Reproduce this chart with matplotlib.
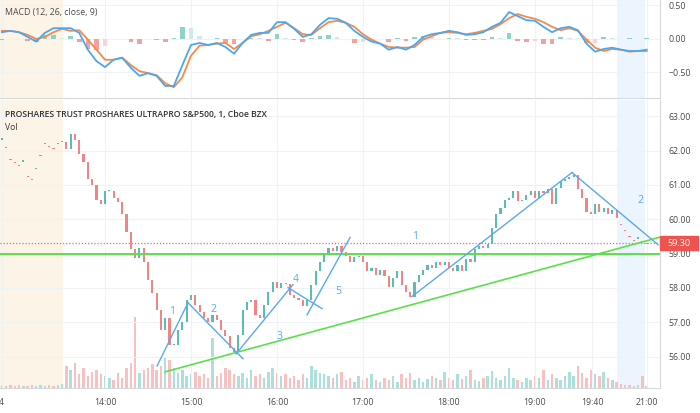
import numpy as np
import matplotlib.pyplot as plt
import matplotlib.transforms as mtransforms
from matplotlib.patches import Rectangle

plt.rcParams['font.family'] = ['Open Sans', 'DejaVu Sans']

# 3 minute bars, time in minutes after 14:00
t_start = -72
bar_step = 3
closes = [62.32, 62.09, 61.74, 61.68, 61.57, 61.68, 61.27, 61.16, 61.45, 61.83, 62.18, 62.12, 62.06, 62.18, 62.26,
          62.03, 62.47, 62.32, 61.89, 61.68, 61.16, 61.01, 60.57, 60.43,
          60.81, 60.81, 60.63, 60.49, 60.14, 59.64, 59.12, 58.88, 59.17, 58.77,
          58.24, 57.86, 57.37, 56.78, 57.13, 56.35, 56.35, 56.78, 57.02, 57.66, 57.80,
          57.51, 57.31, 57.13, 57.02, 57.22, 57.08, 56.78, 56.61, 56.26, 56.14, 56.64,
          57.37, 57.60, 57.66, 57.22, 57.13, 57.51, 57.89, 58.18, 58.01, 58.15, 58.13,
          57.80, 57.72, 57.66, 57.48, 57.66, 58.10, 58.48, 58.77, 58.97, 59.17, 59.09,
          59.23, 59.06, 58.94, 58.77, 58.91, 58.94, 58.77, 58.48, 58.59, 58.39, 58.53,
          58.36, 58.04, 58.30, 58.48, 58.10, 57.89, 57.75, 58.18, 58.39, 58.53, 58.68,
          58.59, 58.77, 58.68, 58.77, 58.59, 58.48, 58.68, 58.48, 58.83, 58.77, 59.12,
          59.23, 59.17, 59.29, 59.76, 60.14, 60.34, 60.57, 60.63, 60.81, 60.52, 60.57,
          60.72, 60.81, 60.63, 60.81, 60.75, 60.87, 60.43, 60.92, 61.10, 61.16, 61.22,
          61.30, 60.87, 60.63, 60.22, 60.14, 60.43, 60.22, 60.34, 60.14, 60.28, 60.05,
          59.85, 59.70, 59.52, 59.41, 59.44, 59.38, 59.32]
volumes = [3, 2, 3, 2, 3, 2, 2, 3, 2, 3, 2, 3, 2, 3, 4,
           22, 18, 25, 14, 20, 12, 16, 18, 14,
           12, 10, 8, 15, 10, 20, 25, 71, 15, 18,
           20, 24, 18, 22, 30, 28, 20, 15, 18, 12, 14,
           16, 12, 14, 10, 50, 12, 15, 20, 18, 14, 12,
           15, 10, 18, 12, 14, 10, 16, 20, 15, 12, 14,
           10, 12, 8, 14, 10, 22, 18, 15, 14, 12, 10,
           14, 16, 8, 10, 6, 12, 8, 10, 14, 8, 6,
           10, 8, 12, 6, 14, 10, 15, 8, 10, 6, 9,
           12, 10, 8, 16, 10, 8, 14, 9, 12, 18, 8,
           7, 10, 12, 17, 10, 8, 12, 20, 10, 8, 6,
           10, 8, 12, 10, 18, 8, 14, 10, 8, 12, 16,
           12, 22, 15, 10, 18, 14, 12, 16, 10, 8, 6,
           4, 3, 3, 2, 3, 12, 2]

# MACD (12, 26, close, 9) sampled every 6 minutes
macd_step = 6
macd_line = [0.10, 0.12, 0.10, 0.03, -0.04, 0.09, 0.16, 0.16, 0.16, 0.09,
             -0.16, -0.33, -0.42, -0.31, -0.28, -0.43, -0.55, -0.51, -0.55, -0.70,
             -0.70, -0.39, -0.09, -0.06, -0.09, -0.06, -0.12, -0.22, -0.06, 0.06,
             0.09, 0.09, 0.25, 0.25, 0.15, 0.03, 0.07, 0.21, 0.31, 0.30,
             0.24, 0.12, 0.03, -0.04, -0.07, -0.16, -0.12, -0.16, -0.09, 0.03,
             0.07, 0.09, 0.12, 0.10, 0.06, 0.07, 0.10, 0.18, 0.24, 0.40,
             0.34, 0.28, 0.27, 0.18, 0.10, 0.16, 0.18, 0.13, -0.07, -0.19,
             -0.15, -0.13, -0.16, -0.18, -0.18, -0.16]
signal_line = [0.12, 0.12, 0.10, 0.06, 0.00, 0.03, 0.10, 0.15, 0.12, 0.13,
               -0.01, -0.16, -0.31, -0.31, -0.28, -0.39, -0.48, -0.51, -0.54, -0.66,
               -0.72, -0.57, -0.25, -0.10, -0.09, -0.07, -0.06, -0.15, -0.06, 0.04,
               0.07, 0.12, 0.18, 0.24, 0.16, 0.07, 0.06, 0.16, 0.25, 0.27,
               0.24, 0.18, 0.07, -0.01, -0.07, -0.12, -0.13, -0.13, -0.12, -0.01,
               0.04, 0.09, 0.10, 0.09, 0.07, 0.09, 0.12, 0.15, 0.22, 0.31,
               0.37, 0.33, 0.30, 0.25, 0.18, 0.13, 0.16, 0.12, -0.01, -0.13,
               -0.18, -0.15, -0.16, -0.19, -0.18, -0.18]

# session limits (minutes after 14:00)
premarket_end = -29.3
postmarket = (357.3, 377)
last_price = 59.30
support_level = 58.98

# drawings: (t0, p0, t1, p1)
green_trend = (41.9, 55.56, 390.0, 59.51)
wave_lines = [(36.3, 55.73, 57.9, 57.57),
              (57.2, 57.60, 96.3, 55.94),
              (91.4, 56.08, 131.2, 58.10),
              (127.7, 58.01, 151.4, 57.40),
              (141.0, 57.22, 171.0, 59.47),
              (214.2, 57.75, 325.9, 61.36),
              (325.9, 61.36, 385.9, 59.26)]
wave_labels = [('1', 46.8, 57.31), ('2', 75.4, 57.37), ('3', 122.1, 56.58),
               ('4', 133.3, 58.24), ('5', 162.6, 57.89), ('1', 216.3, 59.50),
               ('2', 373.3, 60.55)]

xtick_pos = [-72, 0, 60, 120, 180, 240, 300, 340, 378]
xtick_lab = ['4', '14:00', '15:00', '16:00', '17:00', '18:00', '19:00', '19:40', '21:00']
price_ticks = [56, 57, 58, 59, 60, 61, 62, 63]
macd_ticks = [0.5, 0.0, -0.5]
macd_tick_lab = ['0.50', '0.00', '\u22120.50']

UP, DOWN = '#5bbcb2', '#f48383'
VUP, VDOWN = '#ace0da', '#f8c0c0'
BLUE, GREEN = '#5aa9ee', '#5be04b'
GRID = '#eff2f7'
TXT = '#4a4a4a'

c = np.array(closes)
t = t_start + bar_step * np.arange(len(c))
o = np.r_[c[0], c[:-1]]
up = c >= o
ext = (t < premarket_end) | (t > postmarket[0])
o_draw = np.where(ext, c, o)
h = c - o_draw
h = np.where(np.abs(h) < 0.03, np.where(up, 0.03, -0.03), h)

fig = plt.figure(figsize=(7, 4.13), dpi=100)
W, H = 700, 413
ax_m = fig.add_axes([0, 1 - 98 / H, 660 / W, 98 / H])
ax = fig.add_axes([0, 1 - 388 / H, 660 / W, 288 / H], sharex=ax_m)
ax_v = ax.twinx()
ax.set_zorder(ax_v.get_zorder() + 1)
ax.patch.set_visible(False)

xlim = (-73.3, 387.3)

# session shading
for a in (ax_m, ax_v):
    a.axvspan(xlim[0], premarket_end, color='#fdf4e8', lw=0, zorder=0)
    a.axvspan(postmarket[0], postmarket[1], color='#ecf5fd', lw=0, zorder=0)

# MACD panel
tm = t_start + macd_step * np.arange(len(macd_line))
m = np.array(macd_line)
s = np.array(signal_line)
hist = m - s
prev = np.r_[hist[0], hist[:-1]]
hcol = []
for hv, pv in zip(hist, prev):
    if hv >= 0:
        hcol.append('#8ed2ca' if hv >= pv else '#cdece8')
    else:
        hcol.append('#f5a0a0' if hv <= pv else '#fbd3d3')
ax_m.bar(tm, hist, width=3.2, color=hcol, lw=0, zorder=2)
ax_m.plot(tm, s, color='#f7894a', lw=1.3, zorder=3)
ax_m.plot(tm, m, color='#4aa8ee', lw=1.3, zorder=4)
ax_m.set_ylim(-0.88, 0.58)
ax_m.set_yticks(macd_ticks)
ax_m.set_yticklabels(macd_tick_lab)
ax_m.text(0.008, 0.87, 'MACD (12, 26, close, 9)', transform=ax_m.transAxes,
          fontsize=6.3, color=TXT, va='center')

# volume
vcol = [VUP if u else VDOWN for u in up]
ax_v.bar(t, volumes, width=1.7, color=vcol, lw=0, zorder=1)
ax_v.set_ylim(0, 288)
ax_v.axis('off')

# candles
ccol = [UP if u else DOWN for u in up]
ax.bar(t, h, bottom=o_draw, width=1.5, color=ccol, lw=0, zorder=3)
ax.set_ylim(55.09, 63.47)
ax.set_xlim(*xlim)

ax.axhline(last_price, color='#ef6b6b', lw=0.9, ls=(0, (1, 1.5)), zorder=2)
ax.axhline(support_level, color=GREEN, lw=1.4, zorder=4)
ax.plot(green_trend[::2], green_trend[1::2], color=GREEN, lw=1.2, zorder=4)
for x0, y0, x1, y1 in wave_lines:
    ax.plot([x0, x1], [y0, y1], color=BLUE, lw=1.0, zorder=5)
for lab, x, y in wave_labels:
    ax.text(x, y, lab, color=BLUE, fontsize=7.5, ha='center', va='center', zorder=6)

ax.text(0.008, 0.948, 'PROSHARES TRUST PROSHARES ULTRAPRO S&P500, 1, Cboe BZX',
        transform=ax.transAxes, fontsize=6.2, color='#333333', weight='semibold', va='center')
ax.text(0.008, 0.903, 'Vol', transform=ax.transAxes, fontsize=6.2, color='#333333', va='center')

# last price tag
trans = mtransforms.blended_transform_factory(ax.transAxes, ax.transData)
ax.add_patch(Rectangle((1.0, last_price - 0.2), 0.058, 0.4, transform=trans,
                       color='#ef5350', clip_on=False, zorder=10))
ax.text(1.029, last_price, '59.30', transform=trans, color='white', fontsize=6.5,
        ha='center', va='center', zorder=11, clip_on=False)

ax.set_yticks(price_ticks)
ax.set_yticklabels(['%.2f' % v for v in price_ticks])
ax.set_xticks(xtick_pos)
ax.set_xticklabels(xtick_lab)

for a in (ax_m, ax):
    a.yaxis.tick_right()
    a.tick_params(axis='y', length=0, pad=6, labelsize=6.3, labelcolor=TXT)
    a.tick_params(axis='x', length=0, pad=7, labelsize=6.3, labelcolor=TXT)
    a.grid(True, color=GRID, lw=0.8, zorder=0)
    a.set_axisbelow(True)
    for side in ('top', 'left'):
        a.spines[side].set_visible(False)
    for side in ('right', 'bottom'):
        a.spines[side].set_color('#d6d9e0')
        a.spines[side].set_linewidth(0.8)
ax_m.tick_params(axis='x', labelbottom=False)
ax_v.spines[:].set_visible(False)

fig.savefig('out.png', dpi=100)
